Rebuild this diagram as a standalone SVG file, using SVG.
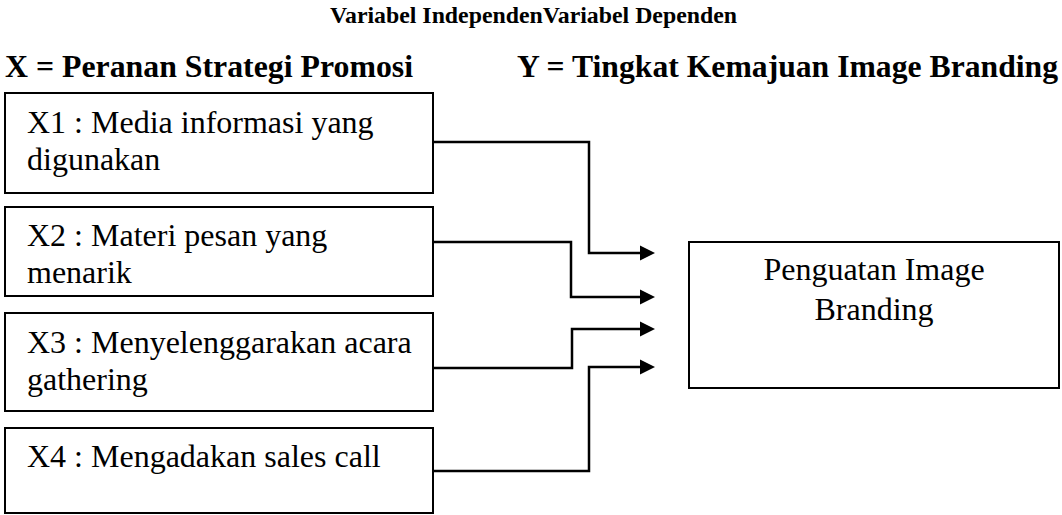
<svg xmlns="http://www.w3.org/2000/svg" width="1062" height="515" viewBox="0 0 1062 515">
  <style>
    .box { fill: #ffffff; stroke: #000000; stroke-width: 2; }
    text { font-family: 'Liberation Serif', 'Times New Roman', Times, 'DejaVu Serif', serif; fill: #000000; }
    .txt { font-size: 32px; }
    .hdr { font-size: 32px; font-weight: bold; }
    .ttl { font-size: 23px; font-weight: bold; }
    .conn { fill: none; stroke: #000000; stroke-width: 2.5; marker-end: url(#arrow); }
  </style>
  <defs>
    <marker id="arrow" markerUnits="userSpaceOnUse" markerWidth="16" markerHeight="16" viewBox="0 0 16 16" refX="1" refY="8" orient="auto">
      <path d="M0,0.5 L15,8 L0,15.5 z" fill="#000000"/>
    </marker>
  </defs>
  <rect width="1062" height="515" fill="#ffffff"/>

  <g id="titles">
    <text class="ttl" x="330" y="23" textLength="407" lengthAdjust="spacingAndGlyphs">Variabel IndependenVariabel Dependen</text>
    <text class="hdr" x="5" y="77" textLength="408" lengthAdjust="spacingAndGlyphs">X = Peranan Strategi Promosi</text>
    <text class="hdr" x="517" y="77" textLength="541" lengthAdjust="spacingAndGlyphs">Y = Tingkat Kemajuan Image Branding</text>
  </g>

  <g id="x1">
    <rect class="box" x="5" y="93" width="428" height="100"/>
    <text class="txt" x="27" y="133">X1 : Media informasi yang</text>
    <text class="txt" x="27" y="170">digunakan</text>
  </g>
  <g id="x2">
    <rect class="box" x="5" y="207" width="428" height="89"/>
    <text class="txt" x="27" y="246">X2 : Materi pesan yang</text>
    <text class="txt" x="27" y="283">menarik</text>
  </g>
  <g id="x3">
    <rect class="box" x="5" y="313" width="428" height="98"/>
    <text class="txt" x="27" y="353">X3 : Menyelenggarakan acara</text>
    <text class="txt" x="27" y="390">gathering</text>
  </g>
  <g id="x4">
    <rect class="box" x="5" y="428" width="428" height="85"/>
    <text class="txt" x="27" y="467">X4 : Mengadakan sales call</text>
  </g>
  <g id="y">
    <rect class="box" x="689" y="242" width="370" height="146"/>
    <text class="txt" x="874" y="280" text-anchor="middle">Penguatan Image</text>
    <text class="txt" x="874" y="320" text-anchor="middle">Branding</text>
  </g>

  <g id="connectors">
    <polyline class="conn" points="433,142 589,142 589,253 641,253"/>
    <polyline class="conn" points="433,242 571,242 571,297 641,297"/>
    <polyline class="conn" points="433,368 572,368 572,329 641,329"/>
    <polyline class="conn" points="433,471 589,471 589,367 641,367"/>
  </g>
</svg>
